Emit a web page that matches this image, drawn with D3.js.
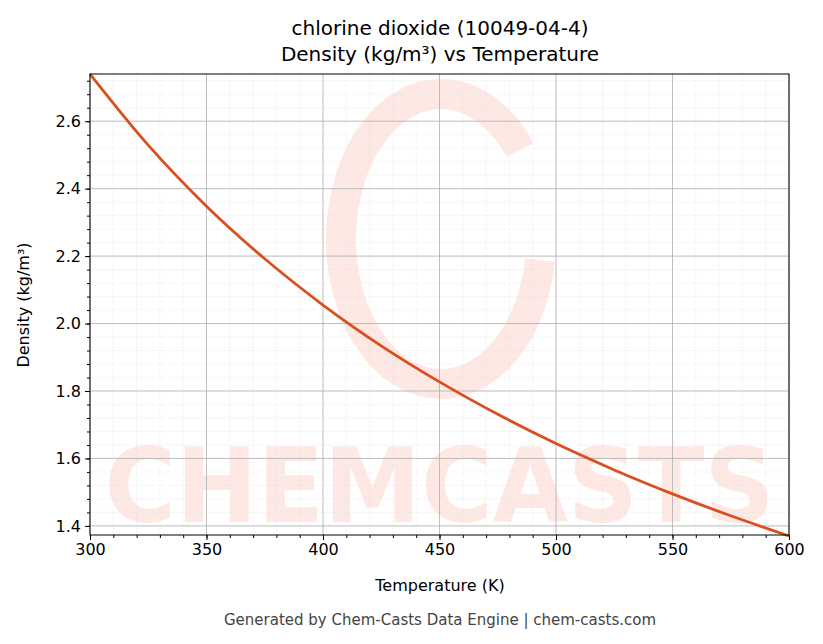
<!DOCTYPE html>
<html><head><meta charset="utf-8">
<script src="https://cdn.jsdelivr.net/npm/d3@7"></script>
<style>body{margin:0;background:#fff;font-family:"DejaVu Sans",sans-serif}</style>
</head><body>
<svg id="c" width="823" height="644"></svg>
<script>
const temps = [300,325,350,375,400,425,450,475,500,525,550,575,600];
const density = [2.740,2.529,2.348,2.192,2.055,1.934,1.827,1.731,1.644,1.566,1.495,1.430,1.370];
const xTicks = [300,350,400,450,500,550,600];
const yTicks = [1.4,1.6,1.8,2.0,2.2,2.4,2.6];

const svg = d3.select("#c");
const L=90,R=789,T=74,B=535;
const x = d3.scaleLinear().domain([300,600]).range([L,R]);
const y = d3.scaleLinear().domain([1.373,2.74]).range([B,T]);

// watermark
svg.append("text").attr("x",(L+R)/2).attr("y",522).attr("text-anchor","middle")
  .attr("font-size",104).attr("font-weight","bold").attr("fill","#fee8e4")
  .attr("textLength",670).attr("lengthAdjust","spacingAndGlyphs").text("CHEMCASTS");
svg.append("path").attr("d","M520,150 A100,145 0 1,0 540,260")
  .attr("fill","none").attr("stroke","#fee8e4").attr("stroke-width",30);

const g = svg.append("g");
const xMinor = d3.range(300,601,10), yMinor = d3.range(1.4,2.74,0.04);
g.selectAll(".xm").data(xMinor).join("line").attr("x1",d=>x(d)).attr("x2",d=>x(d)).attr("y1",T).attr("y2",B)
 .attr("stroke","#ddd").attr("stroke-width",0.5).attr("stroke-dasharray","1,1");
g.selectAll(".ym").data(yMinor).join("line").attr("y1",d=>y(d)).attr("y2",d=>y(d)).attr("x1",L).attr("x2",R)
 .attr("stroke","#ddd").attr("stroke-width",0.5).attr("stroke-dasharray","1,1");
g.selectAll(".xg").data(xTicks).join("line").attr("x1",d=>x(d)).attr("x2",d=>x(d)).attr("y1",T).attr("y2",B)
 .attr("stroke","#b0b0b0").attr("stroke-width",0.8);
g.selectAll(".yg").data(yTicks).join("line").attr("y1",d=>y(d)).attr("y2",d=>y(d)).attr("x1",L).attr("x2",R)
 .attr("stroke","#b0b0b0").attr("stroke-width",0.8);

svg.append("path").datum(temps.map((t,i)=>[t,density[i]]))
  .attr("d",d3.line().x(d=>x(d[0])).y(d=>y(d[1])).curve(d3.curveMonotoneX))
  .attr("fill","none").attr("stroke","#d9501e").attr("stroke-width",2.8);

svg.append("rect").attr("x",L).attr("y",T).attr("width",R-L).attr("height",B-T).attr("fill","none").attr("stroke","#000");

svg.append("g").attr("transform",`translate(0,${B})`).call(d3.axisBottom(x).tickValues(xMinor).tickSize(3).tickFormat(""));
svg.append("g").attr("transform",`translate(${L},0)`).call(d3.axisLeft(y).tickValues(yMinor).tickSize(3).tickFormat(""));
svg.selectAll(".tick text").remove();
svg.append("g").attr("transform",`translate(0,${B})`)
  .call(d3.axisBottom(x).tickValues(xTicks).tickSize(5).tickPadding(4).tickFormat(d3.format("d")));
svg.append("g").attr("transform",`translate(${L},0)`)
  .call(d3.axisLeft(y).tickValues(yTicks).tickSize(5).tickPadding(4).tickFormat(d3.format(".1f")));
svg.selectAll(".domain").remove();
svg.selectAll(".tick text").attr("font-size",16).attr("fill","#000").attr("font-family","DejaVu Sans");

svg.append("text").attr("x",440).attr("y",35).attr("text-anchor","middle").attr("font-size",20).text("chlorine dioxide (10049-04-4)");
svg.append("text").attr("x",440).attr("y",61).attr("text-anchor","middle").attr("font-size",20).text("Density (kg/m³) vs Temperature");
svg.append("text").attr("x",440).attr("y",591).attr("text-anchor","middle").attr("font-size",16).text("Temperature (K)");
svg.append("text").attr("transform","translate(29,305) rotate(-90)").attr("text-anchor","middle").attr("font-size",16).text("Density (kg/m³)");
svg.append("text").attr("x",440).attr("y",625).attr("text-anchor","middle").attr("font-size",15).attr("fill","#444").text("Generated by Chem-Casts Data Engine | chem-casts.com");
</script></body></html>
